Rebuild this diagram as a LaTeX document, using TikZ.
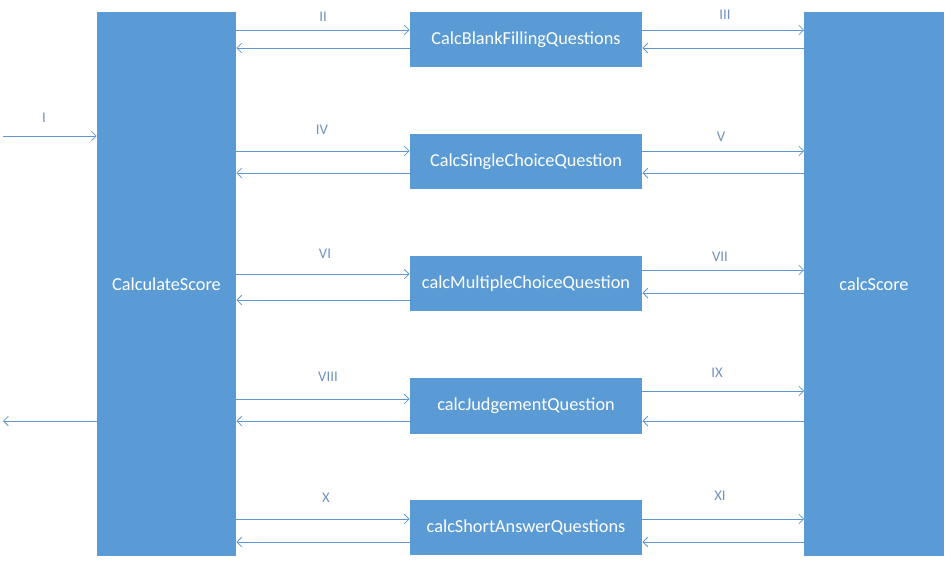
\documentclass[tikz,border=0pt]{standalone}
\usepackage{fontspec}
\setmainfont{Carlito}
\usetikzlibrary{arrows.meta}
\definecolor{boxblue}{RGB}{91,155,213}
\definecolor{lineblue}{RGB}{98,150,206}
\definecolor{lblblue}{RGB}{112,146,192}

\begin{document}
\begin{tikzpicture}[x=0.025cm,y=-0.025cm, every node/.style={font=\fontsize{13}{15}\selectfont},
    blk/.style={fill=boxblue, text=white, minimum width=5.8cm, minimum height=1.375cm, inner sep=0pt},
    big/.style={blk, minimum width=3.475cm, minimum height=13.6cm},
    lnk/.style={-{Straight Barb[length=1.2mm,width=2.4mm]}, lineblue, line width=0.6pt},
    lbl/.style={text=lblblue, font=\fontsize{10.5}{12}\selectfont, inner sep=0pt}]
    \useasboundingbox (0,0) rectangle (951,565);
    \node[big] (calc) at (166.5,284) {CalculateScore};
    \node[big] (score) at (874,284) {calcScore};
    \node[blk] (blank) at (526,39.5) {CalcBlankFillingQuestions};
    \node[blk] (single) at (526,161.5) {CalcSingleChoiceQuestion};
    \node[blk] (multi) at (526,283.5) {calcMultipleChoiceQuestion};
    \node[blk] (judge) at (526,406) {calcJudgementQuestion};
    \node[blk] (short) at (526,527.5) {calcShortAnswerQuestions};
    \coordinate (in) at (3,136);
    \coordinate (out) at (3,421);
    % input / output
    \draw[lnk] (in) -- (calc.west |- in);
    \draw[lnk] (calc.west |- out) -- (out);
    % calc <-> question types
    \draw[lnk] (calc.east |- 0,30) -- (blank.west |- 0,30);
    \draw[lnk] (blank.west |- 0,48) -- (calc.east |- 0,48);
    \draw[lnk] (calc.east |- 0,151) -- (single.west |- 0,151);
    \draw[lnk] (single.west |- 0,173) -- (calc.east |- 0,173);
    \draw[lnk] (calc.east |- 0,274) -- (multi.west |- 0,274);
    \draw[lnk] (multi.west |- 0,300) -- (calc.east |- 0,300);
    \draw[lnk] (calc.east |- 0,399) -- (judge.west |- 0,399);
    \draw[lnk] (judge.west |- 0,421) -- (calc.east |- 0,421);
    \draw[lnk] (calc.east |- 0,519) -- (short.west |- 0,519);
    \draw[lnk] (short.west |- 0,542) -- (calc.east |- 0,542);
    % question types <-> score
    \draw[lnk] (blank.east |- 0,30) -- (score.west |- 0,30);
    \draw[lnk] (score.west |- 0,48) -- (blank.east |- 0,48);
    \draw[lnk] (single.east |- 0,151) -- (score.west |- 0,151);
    \draw[lnk] (score.west |- 0,173) -- (single.east |- 0,173);
    \draw[lnk] (multi.east |- 0,270) -- (score.west |- 0,270);
    \draw[lnk] (score.west |- 0,293) -- (multi.east |- 0,293);
    \draw[lnk] (judge.east |- 0,391) -- (score.west |- 0,391);
    \draw[lnk] (score.west |- 0,421) -- (judge.east |- 0,421);
    \draw[lnk] (short.east |- 0,519) -- (score.west |- 0,519);
    \draw[lnk] (score.west |- 0,542) -- (short.east |- 0,542);
    % labels
    \node[lbl] (l1) at (44,118) {I};
    \node[lbl] (l2) at (323,17) {II};
    \node[lbl] (l3) at (725,15) {III};
    \node[lbl] (l4) at (322,130) {IV};
    \node[lbl] (l5) at (721,137) {V};
    \node[lbl] (l6) at (325,254) {VI};
    \node[lbl] (l7) at (720,257) {VII};
    \node[lbl] (l8) at (328,377) {VIII};
    \node[lbl] (l9) at (717,373) {IX};
    \node[lbl] (l10) at (326,498) {X};
    \node[lbl] (l11) at (720,496) {XI};
\end{tikzpicture}
\end{document}
